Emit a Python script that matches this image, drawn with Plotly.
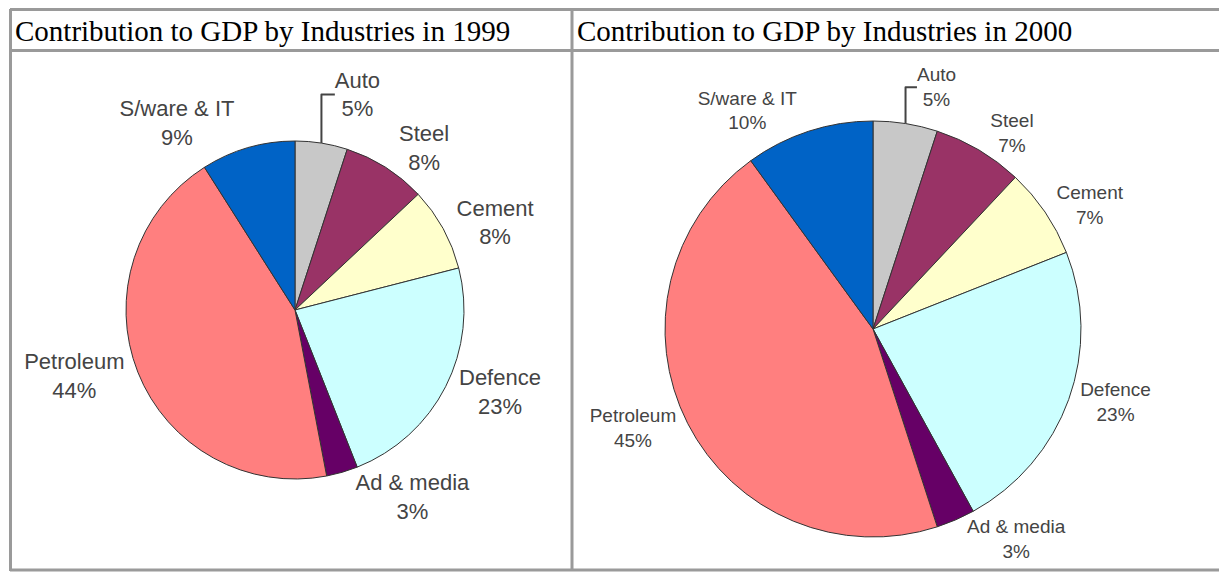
import plotly.graph_objects as go

industries = ["Auto", "Steel", "Cement", "Defence", "Ad &amp; media", "Petroleum", "S/ware &amp; IT"]
share_1999 = [5, 8, 8, 23, 3, 44, 9]
share_2000 = [5, 7, 7, 23, 3, 45, 10]
titles = ["Contribution to GDP by Industries in 1999", "Contribution to GDP by Industries in 2000"]
colors = ["#C8C8C8", "#993366", "#FFFFCC", "#CCFFFF", "#660066", "#FF7F7F", "#0063C6"]

W, H = 1219, 572

def px(x):
    return x / W

def py(y):
    return 1 - y / H

fig = go.Figure()

def add_pie(values, cx, cy, r, fsize):
    fig.add_trace(go.Pie(
        labels=industries,
        values=values,
        sort=False,
        direction="clockwise",
        rotation=0,
        marker=dict(colors=colors, line=dict(color="#333333", width=1)),
        textposition="outside",
        texttemplate="%{label}<br>%{percent:.0%}",
        outsidetextfont=dict(family="Liberation Sans, Arial, sans-serif", size=fsize, color="#444444"),
        domain=dict(x=[px(cx - r), px(cx + r)], y=[py(cy + r), py(cy - r)]),
        showlegend=False,
        hoverinfo="label+percent",
    ))

add_pie(share_1999, 295, 310, 169, 22)
add_pie(share_2000, 873, 329, 208, 19)

line = dict(color="#9A9A9A", width=3)
shapes = [
    dict(type="line", xref="paper", yref="paper", x0=px(10), x1=1, y0=py(9.5), y1=py(9.5), line=line),
    dict(type="line", xref="paper", yref="paper", x0=px(10), x1=1, y0=py(50.5), y1=py(50.5), line=line),
    dict(type="line", xref="paper", yref="paper", x0=px(10), x1=1, y0=py(570), y1=py(570), line=line),
    dict(type="line", xref="paper", yref="paper", x0=px(10.5), x1=px(10.5), y0=py(9), y1=py(571), line=line),
    dict(type="line", xref="paper", yref="paper", x0=px(572), x1=px(572), y0=py(9), y1=py(571), line=line),
]

title_font = dict(family="Liberation Serif, Times New Roman, serif", size=29, color="#000000")
annotations = [
    dict(text=titles[0], xref="paper", yref="paper", x=px(13), y=py(31), xanchor="left", yanchor="middle",
         showarrow=False, font=title_font),
    dict(text=titles[1], xref="paper", yref="paper", x=px(575), y=py(31), xanchor="left", yanchor="middle",
         showarrow=False, font=title_font),
]

fig.update_layout(
    width=W, height=H,
    margin=dict(l=0, r=0, t=0, b=0),
    paper_bgcolor="#FFFFFF",
    plot_bgcolor="#FFFFFF",
    shapes=shapes,
    annotations=annotations,
)

fig.write_html("out.html", include_plotlyjs=True, config={"displayModeBar": False})
